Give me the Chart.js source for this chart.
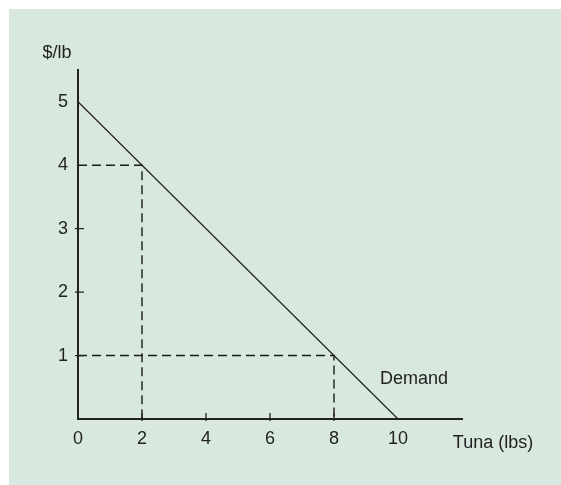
<!DOCTYPE html>
<html lang="en">
<head>
  <meta charset="UTF-8" />
  <title>Demand for Tuna</title>
  <script src="https://cdn.jsdelivr.net/npm/chart.js"></script>
  <style>
    body {
      margin: 0;
      background: #ffffff;
    }
    #wrap {
      width: 561px;
      height: 485px;
    }
  </style>
</head>
<body>
  <div id="wrap">
    <canvas id="demandChart" width="561" height="485"></canvas>
  </div>

  <script>
    // demand curve end points (quantity, price)
    const demandQty = [0, 10];
    const demandPrice = [5, 0];

    // the two points with dashed guides
    const guideQty = [2, 8];
    const guidePrice = [4, 1];

    // tick labels shown on the axes
    const xTickLabels = [0, 2, 4, 6, 8, 10];
    const yTickLabels = [1, 2, 3, 4, 5];

    // small tick marks drawn across the axes
    const xTickMarks = [2, 4, 6, 8];
    const yTickMarks = [1, 2, 3];

    const inkColor = "#222222";
    const font = { family: "'Liberation Sans', Arial, sans-serif", size: 18 };

    const demandData = demandQty.map((q, i) => ({ x: q, y: demandPrice[i] }));

    const guideSets = guideQty.map((q, i) => ({
      data: [
        { x: 0, y: guidePrice[i] },
        { x: q, y: guidePrice[i] },
        { x: q, y: 0 }
      ],
      borderColor: "#1a1a1a",
      borderWidth: 1.4,
      borderDash: [9, 5],
      pointRadius: 0,
      tension: 0,
      clip: false
    }));

    // green panel behind the plot
    const panelPlugin = {
      id: "panel",
      beforeDraw(chart) {
        const ctx = chart.ctx;
        ctx.save();
        ctx.fillStyle = "#d9e8df";
        ctx.fillRect(9, 9, chart.width - 9, chart.height - 9);
        ctx.restore();
      }
    };

    // tick marks crossing the axes + text labels
    const extrasPlugin = {
      id: "extras",
      afterDraw(chart) {
        const ctx = chart.ctx;
        const xs = chart.scales.x;
        const ys = chart.scales.y;
        const axisY = ys.getPixelForValue(0);
        const axisX = xs.getPixelForValue(0);
        ctx.save();
        ctx.strokeStyle = inkColor;
        ctx.lineWidth = 1.3;
        ctx.beginPath();
        xTickMarks.forEach(v => {
          const px = xs.getPixelForValue(v);
          ctx.moveTo(px, axisY - 6);
          ctx.lineTo(px, axisY + 2);
        });
        yTickMarks.forEach(v => {
          const py = ys.getPixelForValue(v);
          ctx.moveTo(axisX - 3, py);
          ctx.lineTo(axisX + 6, py);
        });
        ctx.stroke();

        ctx.fillStyle = inkColor;
        ctx.font = font.size + "px " + font.family;
        ctx.textBaseline = "middle";
        ctx.textAlign = "center";
        ctx.fillText("$/lb", axisX - 21, ys.top - 17);
        ctx.fillText("Demand", xs.getPixelForValue(10.5), ys.getPixelForValue(0.63));
        ctx.fillText("Tuna (lbs)", xs.right + 31, axisY + 24);
        ctx.restore();
      }
    };

    const ctx = document.getElementById("demandChart").getContext("2d");
    new Chart(ctx, {
      type: "line",
      data: {
        datasets: [
          {
            label: "Demand",
            data: demandData,
            borderColor: inkColor,
            borderWidth: 1.2,
            pointRadius: 0,
            tension: 0,
            clip: false
          },
          ...guideSets
        ]
      },
      options: {
        responsive: false,
        animation: false,
        layout: {
          padding: { top: 70, right: 99, bottom: 0, left: 0 }
        },
        plugins: {
          legend: { display: false },
          tooltip: { enabled: false }
        },
        scales: {
          x: {
            type: "linear",
            min: 0,
            max: 12,
            afterFit(axis) { axis.height = 66; },
            grid: { display: false, drawTicks: false },
            border: { display: true, color: inkColor, width: 2 },
            ticks: {
              stepSize: 2,
              autoSkip: false,
              maxRotation: 0,
              padding: 9,
              color: inkColor,
              font: font,
              callback: v => xTickLabels.includes(v) ? String(v) : ""
            }
          },
          y: {
            type: "linear",
            min: 0,
            max: 5.5,
            afterFit(axis) { axis.width = 78; },
            grid: { display: false, drawTicks: false },
            border: { display: true, color: inkColor, width: 2 },
            ticks: {
              stepSize: 1,
              autoSkip: false,
              padding: 10,
              color: inkColor,
              font: font,
              callback: v => yTickLabels.includes(v) ? String(v) : ""
            }
          }
        }
      },
      plugins: [panelPlugin, extrasPlugin]
    });
  </script>
</body>
</html>
